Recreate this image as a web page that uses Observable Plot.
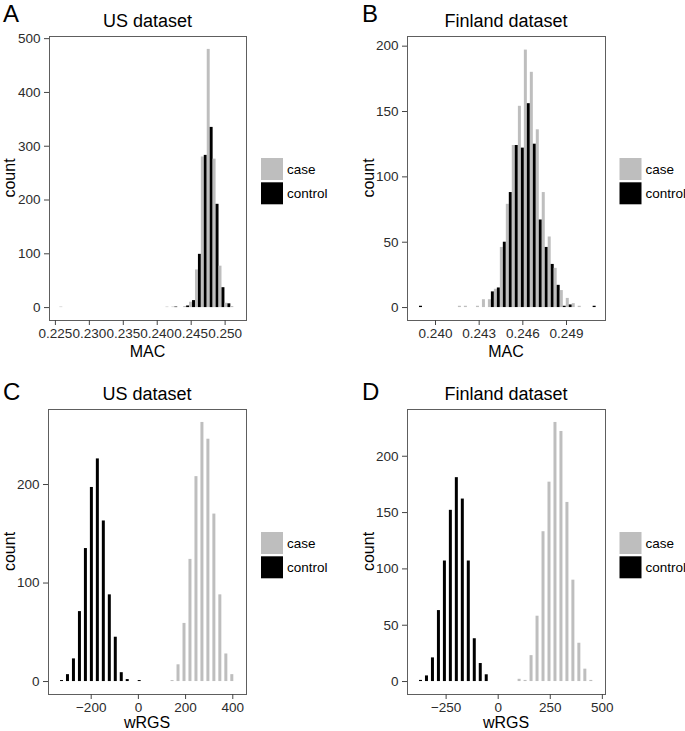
<!DOCTYPE html>
<html><head><meta charset="utf-8">
<script src="https://cdn.jsdelivr.net/npm/d3@7"></script>
<script src="https://cdn.jsdelivr.net/npm/@observablehq/plot@0.6"></script>
<style>
body{margin:0;background:#fff;}
#root{position:relative;width:685px;height:731px;overflow:hidden;font-family:"Liberation Sans",Arial,Helvetica,sans-serif;}
#root svg{position:absolute;}
#root svg g[aria-label$="tick label"], #root svg g[aria-label$="tick label"] text{font-size:13.5px !important;fill:#2b2b2b;}
</style></head><body><div id="root"></div>
<script>
// ---------- shared ----------
const groups = ["case", "control"];
const groupColors = ["#bebebe", "#000000"];
const panelLetters = ["A", "B", "C", "D"];
const panelTitles = ["US dataset", "Finland dataset", "US dataset", "Finland dataset"];
const xLabels = ["MAC", "MAC", "wRGS", "wRGS"];
const yLabel = "count";

// ---------- Panel A: US dataset, MAC ----------
const macUSCenters = [0.22609,0.22696,0.22783,0.22870,0.22956,0.23043,0.23130,0.23217,0.23304,0.23391,
  0.23478,0.23564,0.23651,0.23738,0.23825,0.23912,0.23999,0.24085,0.24172,0.24259,
  0.24346,0.24433,0.24520,0.24607,0.24693,0.24780,0.24867,0.24954,0.25041,0.25128];
const macUSBinWidth = 0.0008685;
const macUSCase =    [1,0,0,0,0,0,0,0,0,0, 0,0,0,0,0,0,0,0,1,1, 0,2,10,70,280,480,276,77,8,2];
const macUSControl = [0,0,0,0,0,0,0,0,0,0, 0,0,0,0,0,0,0,0,0,1, 0,3,13,99,283,335,192,37,7,0];
const macUSXTicks = [0.225,0.230,0.235,0.240,0.245,0.250];
const macUSYTicks = [0,100,200,300,400,500];

// ---------- Panel B: Finland dataset, MAC ----------
const macFICenters = [0.23890,0.23931,0.23972,0.24013,0.24055,0.24096,0.24137,0.24178,0.24219,0.24260,
  0.24302,0.24343,0.24384,0.24425,0.24466,0.24507,0.24548,0.24590,0.24631,0.24672,
  0.24713,0.24754,0.24795,0.24836,0.24878,0.24919,0.24960,0.25001,0.25042,0.25083];
const macFIBinWidth = 0.0004115;
const macFICase =    [0,0,0,0,0,0,0,1,1,0, 1,6,6,14,46,79,124,154,197,180, 136,88,54,30,13,7,3,1,0,0];
const macFIControl = [1,0,0,0,0,0,0,0,0,0, 0,0,12,15,50,88,124,122,156,125, 67,46,33,17,1,2,0,0,0,1];
const macFIXTicks = [0.240,0.243,0.246,0.249];
const macFIYTicks = [0,50,100,150,200];

// ---------- Panel C: US dataset, wRGS ----------
const wrgsUSCenters = [-330.0,-304.7,-279.4,-254.0,-228.7,-203.4,-178.1,-152.8,-127.4,-102.1,
  -76.8,-51.5,-26.2,-0.8,24.5,49.8,75.1,100.4,125.8,151.1,
  176.4,201.7,227.0,252.4,277.7,303.0,328.3,353.6,379.0,404.3];
const wrgsUSBinWidth = 25.32;
const wrgsUSCase =    [0,0,0,0,0,0,0,0,0,0, 0,0,0,0,0,0,0,0,0,1, 17,59,124,208,263,246,170,88,28,7];
const wrgsUSControl = [1,7,23,71,135,197,226,163,88,45, 9,2,0,1,0,0,0,0,0,0, 0,0,0,0,0,0,0,0,0,0];
const wrgsUSXTicks = [-200,0,200,400];
const wrgsUSYTicks = [0,100,200];

// ---------- Panel D: Finland dataset, wRGS ----------
const wrgsFICenters = [-377.8,-349.1,-320.4,-291.7,-263.0,-234.4,-205.7,-177.0,-148.3,-119.6,
  -90.9,-62.2,-33.5,-4.8,23.9,52.6,81.2,109.9,138.6,167.3,
  196.0,224.7,253.4,282.1,310.8,339.5,368.1,396.8,425.5,454.2];
const wrgsFIBinWidth = 28.69;
const wrgsFICase =    [0,0,0,0,0,0,0,0,0,0, 0,0,0,0,0,0,0,2,1,23, 58,133,177,230,222,159,90,34,11,1];
const wrgsFIControl = [1,5,21,63,107,152,181,162,107,38, 16,6,0,0,0,0,0,0,0,0, 0,0,0,0,0,0,0,0,0,0];
const wrgsFIXTicks = [-250,0,250,500];
const wrgsFIYTicks = [0,50,100,150,200];

// ---------- layout ----------
const FONT = '"Liberation Sans", Arial, Helvetica, sans-serif';
const root = document.getElementById("root");

function histRows(centers, w, caseCounts, controlCounts) {
  const rows = [];
  centers.forEach((c, i) => {
    rows.push({x1: c - w / 2, x2: c, count: caseCounts[i], group: groups[0]});
    rows.push({x1: c, x2: c + w / 2, count: controlCounts[i], group: groups[1]});
  });
  return rows.filter(d => d.count > 0);
}

const panels = [
  {left: 0, top: 0, width: 340, height: 360, mL: 49, mR: 94, mT: 36, mB: 40,
   xDomain: [0.22413, 0.25315], yDomain: [-24, 504], xTicks: macUSXTicks, yTicks: macUSYTicks, fmt: d3.format(".3f"),
   rows: histRows(macUSCenters, macUSBinWidth, macUSCase, macUSControl)},
  {left: 340, top: 0, width: 345, height: 360, mL: 67, mR: 80, mT: 36, mB: 40,
   xDomain: [0.238076, 0.251679], yDomain: [-9.9, 207.4], xTicks: macFIXTicks, yTicks: macFIYTicks, fmt: d3.format(".3f"),
   rows: histRows(macFICenters, macFIBinWidth, macFICase, macFIControl)},
  {left: 0, top: 360, width: 340, height: 371, mL: 48, mR: 94, mT: 49, mB: 37,
   xDomain: [-380.9, 458.1], yDomain: [-13.15, 276.15], xTicks: wrgsUSXTicks, yTicks: wrgsUSYTicks, fmt: d3.format("~f"),
   rows: histRows(wrgsUSCenters, wrgsUSBinWidth, wrgsUSCase, wrgsUSControl)},
  {left: 340, top: 360, width: 345, height: 371, mL: 67, mR: 80, mT: 49, mB: 37,
   xDomain: [-435.4, 515.1], yDomain: [-11.5, 241.5], xTicks: wrgsFIXTicks, yTicks: wrgsFIYTicks, fmt: d3.format("~f"),
   rows: histRows(wrgsFICenters, wrgsFIBinWidth, wrgsFICase, wrgsFIControl)}
];

panels.forEach((p, i) => {
  const chart = Plot.plot({
    width: p.width, height: p.height,
    marginLeft: p.mL, marginRight: p.mR, marginTop: p.mT, marginBottom: p.mB,
    style: {fontFamily: FONT, fontSize: "13.5px", background: "transparent", overflow: "visible"},
    x: {domain: p.xDomain, axis: null},
    y: {domain: p.yDomain, axis: null},
    color: {domain: groups, range: groupColors},
    marks: [
      Plot.rect(p.rows, {x1: "x1", x2: "x2", y1: 0, y2: "count", fill: "group"}),
      Plot.frame({stroke: "#5e5e5e", strokeWidth: 1}),
      Plot.axisX({ticks: p.xTicks, tickFormat: p.fmt, tickSize: 5, tickPadding: 3, fontSize: 13.5,
                  stroke: "#444", fill: "#2b2b2b", label: null}),
      Plot.axisY({ticks: p.yTicks, tickSize: 5, tickPadding: 4, fontSize: 13.5,
                  stroke: "#444", fill: "#2b2b2b", label: null})
    ]
  });
  chart.style.left = p.left + "px";
  chart.style.top = p.top + "px";
  root.appendChild(chart);
});

// ---------- overlay text & legends ----------
const svg = d3.select(root).append("svg")
  .attr("width", 685).attr("height", 731)
  .style("left", "0px").style("top", "0px")
  .style("font-family", FONT);

const textLayout = [
  {letterX: 3, letterY: 22, titleX: 147.5, titleY: 26.7, countX: 15, countY: 178, xlabY: 357, legX: 261, legY: 158},
  {letterX: 362, letterY: 22, titleX: 506, titleY: 26.7, countX: 373.5, countY: 178, xlabY: 357, legX: 619.5, legY: 158},
  {letterX: 3, letterY: 400, titleX: 147, titleY: 400, countX: 15, countY: 551.5, xlabY: 728, legX: 261, legY: 532},
  {letterX: 362, letterY: 400, titleX: 506, titleY: 400, countX: 373.5, countY: 551.5, xlabY: 728, legX: 619.5, legY: 532}
];

textLayout.forEach((t, i) => {
  svg.append("text").attr("x", t.letterX).attr("y", t.letterY)
    .attr("font-size", 24).attr("fill", "#000").text(panelLetters[i]);
  svg.append("text").attr("x", t.titleX).attr("y", t.titleY)
    .attr("font-size", 18).attr("text-anchor", "middle").attr("fill", "#000").text(panelTitles[i]);
  svg.append("text").attr("transform", `translate(${t.countX},${t.countY}) rotate(-90)`)
    .attr("font-size", 16).attr("text-anchor", "middle").attr("fill", "#000").text(yLabel);
  svg.append("text").attr("x", t.titleX).attr("y", t.xlabY)
    .attr("font-size", 16).attr("text-anchor", "middle").attr("fill", "#000").text(xLabels[i]);
  groups.forEach((g, j) => {
    svg.append("rect").attr("x", t.legX).attr("y", t.legY + j * 24.3)
      .attr("width", 22).attr("height", 22).attr("fill", groupColors[j]);
    svg.append("text").attr("x", t.legX + 26).attr("y", t.legY + j * 24.3 + 16)
      .attr("font-size", 13.5).attr("fill", "#000").text(g);
  });
});
</script>
</body></html>
